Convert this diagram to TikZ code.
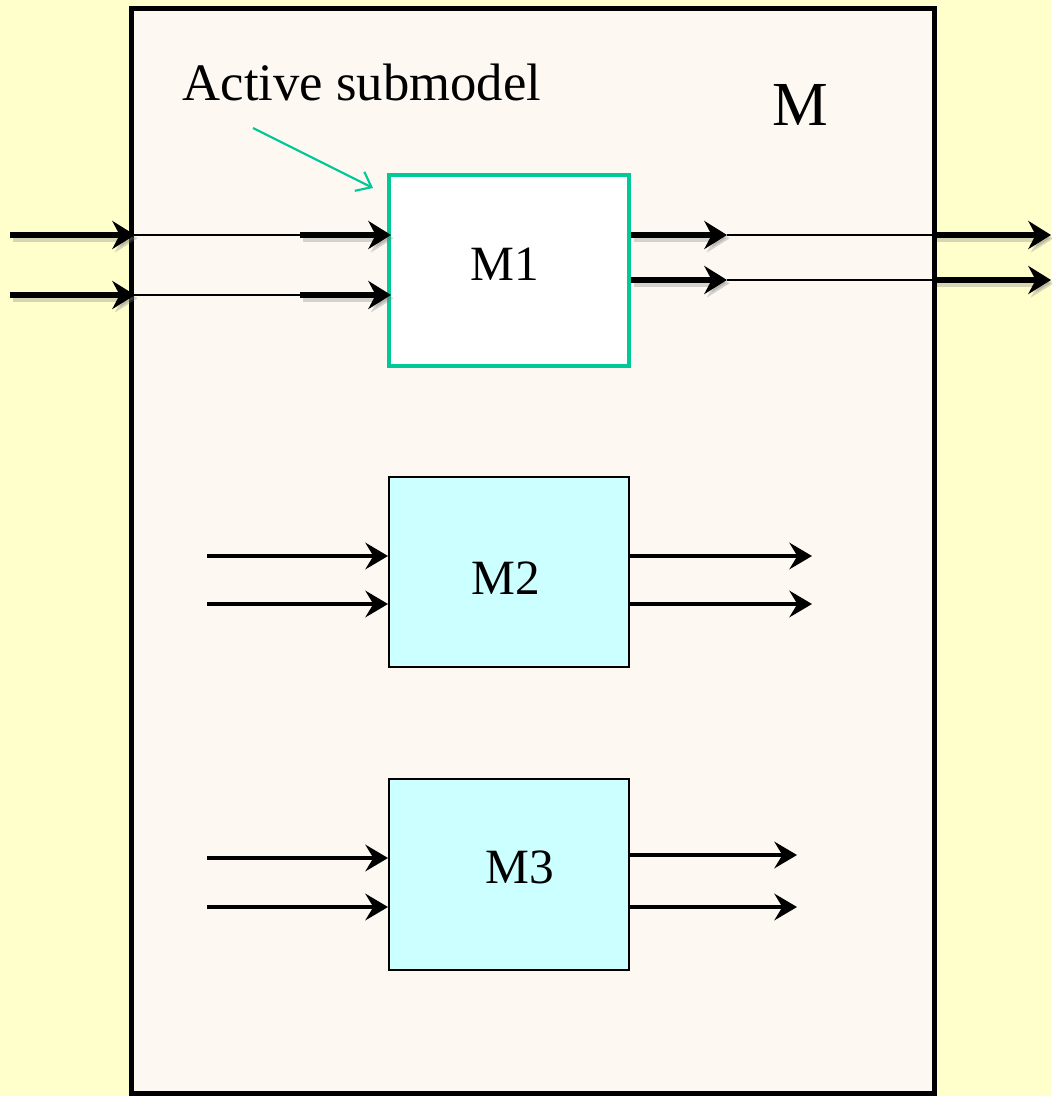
\documentclass[tikz,border=0pt]{standalone}
\usepackage{fontspec}
\setmainfont{Liberation Serif}
\usetikzlibrary{arrows.meta}
\definecolor{bgyellow}{HTML}{FFFFCC}
\definecolor{panel}{HTML}{FDF8F2}
\definecolor{activeteal}{HTML}{00C896}
\definecolor{idlecyan}{HTML}{CCFFFF}
\definecolor{shade}{HTML}{7A7A7A}

\begin{document}
\begin{tikzpicture}[x=0.75pt,y=-0.75pt,
  heavy/.style={line width=4.2pt, line cap=butt,
    -{Stealth[length=17pt,width=21pt,inset=5.5pt]}},
  heavyshadow/.style={line width=5pt, draw=shade, opacity=0.3,
    -{Stealth[length=17pt,width=21pt,inset=5.5pt]}},
  wire/.style={line width=1.5pt},
  port/.style={line width=2.3pt,
    -{Stealth[length=17pt,width=20pt,inset=6pt]}},
  box/.style={draw, line width=1.5pt, fill=idlecyan, minimum width=180pt,
    minimum height=143pt, inner sep=0pt},
  label/.style={font=\fontsize{37}{40}\selectfont, inner sep=0pt}
]
% canvas
\fill[bgyellow] (0,0) rectangle (1051,1096);
\useasboundingbox (0,0) rectangle (1051,1096);

% enclosing model M
\node[draw, line width=3.75pt, fill=panel, minimum width=602.25pt,
  minimum height=813.75pt, inner sep=0pt, outer sep=0pt] (frame) at (532.5,550.5) {};
\node[font=\fontsize{47}{50}\selectfont, inner sep=0pt] (mlabel) at (800,105) {M};

% submodels
\node[box, draw=activeteal, line width=3pt, fill=white] (M1) at (509,270.5) {};
\node[box] (M2) at (509,572) {};
\node[box] (M3) at (509,874.5) {};
\node[label] (t1) at (505,264) {M1};
\node[label] (t2) at (506,578) {M2};
\node[label] (t3) at (520,867) {M3};

% pointer to the active submodel
\node[font=\fontsize{39.5}{42}\selectfont, inner sep=0pt] (act) at (362,82) {Active submodel};
\coordinate (ptr) at (253,128);
\draw[activeteal, line width=1.6pt, -{Straight Barb[length=10pt,width=16pt]}]
  (ptr) -- (373,188);

% routed inputs and outputs of M through M1
\coordinate (a1) at (10,235);
\coordinate (a2) at (10,295);
\coordinate (b1) at (300,235);
\coordinate (b2) at (300,295);
\coordinate (c1) at (727,235);
\coordinate (c2) at (727,280);
\coordinate (d1) at (1051,235);
\coordinate (d2) at (1051,280);

\foreach \i in {1,2}{
  % soft shadows under the heavy arrows
  \draw[heavyshadow, transform canvas={shift={(2pt,-2.5pt)}}] (a\i) -- ([xshift=3pt]a\i -| frame.west);
  \draw[heavyshadow, transform canvas={shift={(2pt,-2.5pt)}}] (b\i) -- ([xshift=3pt]b\i -| M1.west);
  \draw[heavyshadow, transform canvas={shift={(2pt,-2.5pt)}}] (c\i -| M1.east) -- (c\i);
  \draw[heavyshadow, transform canvas={shift={(2pt,-2.5pt)}}] (c\i -| frame.east) -- (d\i);
  % inputs
  \draw[heavy] (a\i) -- ([xshift=3pt]a\i -| frame.west);
  \draw[wire] (a\i -| frame.west) -- (b\i);
  \draw[heavy] (b\i) -- ([xshift=3pt]b\i -| M1.west);
  % outputs
  \draw[heavy] (c\i -| M1.east) -- (c\i);
  \draw[wire] (c\i) -- (c\i -| frame.east);
  \draw[heavy] (c\i -| frame.east) -- (d\i);
}

% ports of the idle submodels
\coordinate (p1) at (207,556);
\coordinate (p2) at (207,604);
\coordinate (q1) at (812,556);
\coordinate (q2) at (812,604);
\coordinate (r1) at (207,858);
\coordinate (r2) at (207,907);
\coordinate (s1) at (797,855);
\coordinate (s2) at (797,907);
\foreach \i in {1,2}{
  \draw[port] (p\i) -- (p\i -| M2.west);
  \draw[port] (q\i -| M2.east) -- (q\i);
  \draw[port] (r\i) -- (r\i -| M3.west);
  \draw[port] (s\i -| M3.east) -- (s\i);
}
\end{tikzpicture}
\end{document}
